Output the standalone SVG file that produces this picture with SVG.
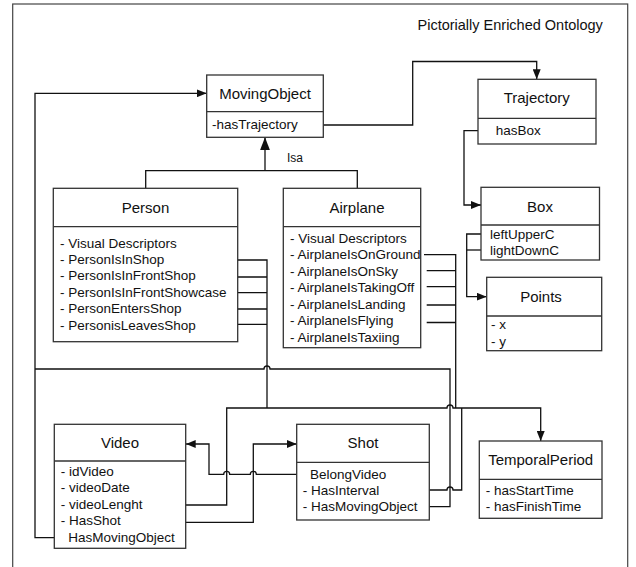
<svg xmlns="http://www.w3.org/2000/svg" width="636" height="567" viewBox="0 0 636 567">
<style>
text{font-family:"Liberation Sans",Arial,sans-serif;fill:#111}
.t{font-size:15px;text-anchor:middle}
.a{font-size:13.5px}
.h{font-size:14.5px}
.l{font-size:12px}
.box{fill:#fff;stroke:#333;stroke-width:1.3}
.div{stroke:#333;stroke-width:1.3}
.c{fill:none;stroke:#111;stroke-width:1.3}
</style>
<defs>
<marker id="arr" viewBox="0 0 10 8" refX="10" refY="4" markerWidth="10" markerHeight="8" markerUnits="userSpaceOnUse" orient="auto"><path d="M0,0 L10,4 L0,8 z" fill="#111"/></marker>
<marker id="arrL" viewBox="0 0 13 10" refX="13" refY="5" markerWidth="13" markerHeight="10" markerUnits="userSpaceOnUse" orient="auto"><path d="M0,0 L13,5 L0,10 z" fill="#111"/></marker>
</defs>
<rect x="12.7" y="4" width="615" height="620" fill="#fff" stroke="#444" stroke-width="1.2"/>
<text class="h" x="417.5" y="30">Pictorially Enriched Ontology</text>

<g id="connectors">
<path class="c" d="M313,125 H412.7 V61.5 H536.7 V79.3" marker-end="url(#arr)"/>
<path class="c" d="M145.7,188.3 V170.7 H357.3 V188.3"/>
<path class="c" d="M265,170.7 V137.3" marker-end="url(#arrL)"/>
<text class="l" x="287" y="162">Isa</text>
<path class="c" d="M63.3,537.7 H35 V93.3 H206.7" marker-end="url(#arr)"/>
<path class="c" d="M35,369 H264 A3,3 0 0 1 270,369 H450 V506.7 H425.7"/>
<path class="c" d="M231,260 H267 V408 M233,277 H267 M233,292.7 H267 M233,309 H267 M233,324.3 H267"/>
<path class="c" d="M161.7,505 H226.7 V408 H447 A3,3 0 0 1 453,408 H540.7 V441" marker-end="url(#arr)"/>
<path class="c" d="M424,254.7 H455.7 V408 M426.7,270.7 H455.7 M426.7,286.7 H455.7 M426.7,305 H455.7 M426.7,322.5 H455.7"/>
<path class="c" d="M408.3,490 H447 A3,3 0 0 1 453,490 H461.7 V408"/>
<path class="c" d="M305,474.3 H256.3 A3,3 0 0 0 250.3,474.3 H229.7 A3,3 0 0 0 223.7,474.3 H209 V444 H185.7" marker-end="url(#arr)"/>
<path class="c" d="M161.7,522.3 H253.3 V444 H296.7" marker-end="url(#arr)"/>
<path class="c" d="M486,130.7 H464 V205 H481" marker-end="url(#arr)"/>
<path class="c" d="M489,234 H466.7 V296.7 H486.7" marker-end="url(#arr)"/>
<path class="c" d="M489,250 H466.7"/>
</g>

<g id="MovingObject">
<rect class="box" x="206.7" y="75" width="116.6" height="62.3"/>
<line class="div" x1="206.7" y1="111.7" x2="323.3" y2="111.7"/>
<text class="t" x="265" y="99">MovingObject</text>
<text class="a" x="212" y="129">-hasTrajectory</text>
</g>

<g id="Trajectory">
<rect class="box" x="478" y="79.3" width="118" height="64.7"/>
<line class="div" x1="478" y1="118.3" x2="596" y2="118.3"/>
<text class="t" x="536.7" y="102.5">Trajectory</text>
<text class="a" x="495.7" y="135">hasBox</text>
</g>

<g id="Person">
<rect class="box" x="53.3" y="188.3" width="184.4" height="153.4"/>
<line class="div" x1="53.3" y1="226.7" x2="237.7" y2="226.7"/>
<text class="t" x="145.5" y="212.5">Person</text>
<text class="a" x="60" y="247.5">- Visual Descriptors</text>
<text class="a" x="60" y="264">- PersonIsInShop</text>
<text class="a" x="60" y="280.4">- PersonIsInFrontShop</text>
<text class="a" x="60" y="296.8">- PersonIsInFrontShowcase</text>
<text class="a" x="60" y="313.2">- PersonEntersShop</text>
<text class="a" x="60" y="329.6">- PersonisLeavesShop</text>
</g>

<g id="Airplane">
<rect class="box" x="283.3" y="188.3" width="137.4" height="159.4"/>
<line class="div" x1="283.3" y1="226.7" x2="420.7" y2="226.7"/>
<text class="t" x="357" y="212.5">Airplane</text>
<text class="a" x="290" y="242.5">- Visual Descriptors</text>
<text class="a" x="290" y="259">- AirplaneIsOnGround</text>
<text class="a" x="290" y="275.5">- AirplaneIsOnSky</text>
<text class="a" x="290" y="292">- AirplaneIsTakingOff</text>
<text class="a" x="290" y="308.5">- AirplaneIsLanding</text>
<text class="a" x="290" y="325">- AirplaneIsFlying</text>
<text class="a" x="290" y="341.5">- AirplaneIsTaxiing</text>
</g>

<g id="Box">
<rect class="box" x="481" y="187.3" width="118.5" height="72.7"/>
<line class="div" x1="481" y1="225" x2="599.5" y2="225"/>
<text class="t" x="540" y="211.5">Box</text>
<text class="a" x="490" y="239">leftUpperC</text>
<text class="a" x="490" y="255">lightDownC</text>
</g>

<g id="Points">
<rect class="box" x="486.7" y="277.3" width="115" height="73.4"/>
<line class="div" x1="486.7" y1="316" x2="601.7" y2="316"/>
<text class="t" x="541" y="301.5">Points</text>
<text class="a" x="491" y="329">- x</text>
<text class="a" x="491" y="345.5">- y</text>
</g>

<g id="Video">
<rect class="box" x="54.3" y="424.3" width="131.4" height="124"/>
<line class="div" x1="54.3" y1="461" x2="185.7" y2="461"/>
<text class="t" x="120" y="448">Video</text>
<text class="a" x="60.7" y="476">- idVideo</text>
<text class="a" x="60.7" y="492.4">- videoDate</text>
<text class="a" x="60.7" y="508.8">- videoLenght</text>
<text class="a" x="60.7" y="525.2">- HasShot</text>
<text class="a" x="68.3" y="541.6">HasMovingObject</text>
</g>

<g id="Shot">
<rect class="box" x="296.7" y="424.3" width="132.6" height="95.7"/>
<line class="div" x1="296.7" y1="462.3" x2="429.3" y2="462.3"/>
<text class="t" x="363" y="448">Shot</text>
<text class="a" x="310" y="479.3">BelongVideo</text>
<text class="a" x="302.7" y="495.3">- HasInterval</text>
<text class="a" x="302.7" y="511.3">- HasMovingObject</text>
</g>

<g id="TemporalPeriod">
<rect class="box" x="479.3" y="441" width="122.7" height="77.3"/>
<line class="div" x1="479.3" y1="479.3" x2="602" y2="479.3"/>
<text class="t" x="540.7" y="465">TemporalPeriod</text>
<text class="a" x="485.7" y="495.3">- hasStartTime</text>
<text class="a" x="485.7" y="511.3">- hasFinishTime</text>
</g>
</svg>
